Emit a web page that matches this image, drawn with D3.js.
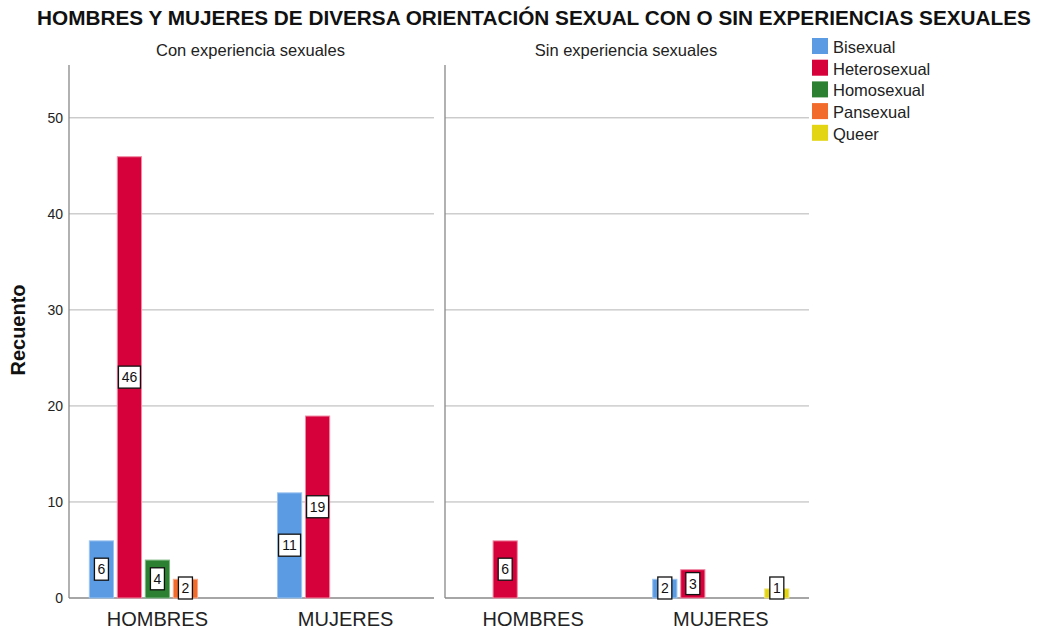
<!DOCTYPE html>
<html>
<head>
<meta charset="utf-8">
<script src="https://cdn.jsdelivr.net/npm/d3@7"></script>
<style>
  body { margin: 0; background: #fff; }
  text { font-family: "Liberation Sans", Arial, sans-serif; }
</style>
</head>
<body>
<div id="chart"></div>
<script>
var width = 1038,
    height = 630;

// data
var panels = ["Con experiencia sexuales", "Sin experiencia sexuales"];
var sexes = ["HOMBRES", "MUJERES"];
var orientations = ["Bisexual", "Heterosexual", "Homosexual", "Pansexual", "Queer"];
var colors = ["#5b9be3", "#d6003a", "#2b8032", "#f26b2b", "#e3d514"];
var edgeColors = ["#9cc3f0", "#f08aa5", "#7fb884", "#f8a888", "#f0e680"];
// counts per panel, sex, orientation
var conCounts = [[6, 46, 4, 2, 0], [11, 19, 0, 0, 0]];
var sinCounts = [[0, 6, 0, 0, 0], [2, 3, 0, 0, 1]];
var yTicks = [0, 10, 20, 30, 40, 50];

var counts = [conCounts, sinCounts];

var svg = d3.select("#chart").append("svg")
  .attr("width", width)
  .attr("height", height);

//title
svg.append("text")
  .attr("x", 534)
  .attr("y", 25)
  .attr("text-anchor", "middle")
  .style("font-size", "20.75px")
  .style("font-weight", "bold")
  .attr("fill", "#111")
  .text("HOMBRES Y MUJERES DE DIVERSA ORIENTACIÓN SEXUAL CON O SIN EXPERIENCIAS SEXUALES");

var yScale = d3.scaleLinear()
  .domain([0, 55.5])
  .range([598, 65]);

var panelX = [[69, 434], [445, 809]];

//y axis title
svg.append("text")
  .attr("transform", "translate(25,330), rotate(-90)")
  .attr("text-anchor", "middle")
  .style("font-size", "20px")
  .style("font-weight", "bold")
  .attr("fill", "#111")
  .text("Recuento");

//y tick labels
svg.append("g").selectAll("text")
  .data(yTicks)
  .enter().append("text")
    .attr("x", 63)
    .attr("y", function(d) { return yScale(d) + 5; })
    .attr("text-anchor", "end")
    .style("font-size", "14px")
    .attr("fill", "#222")
    .text(function(d) { return d; });

var inner = d3.scaleBand()
  .domain(orientations)
  .range([-70, 70])
  .paddingInner(0.1)
  .paddingOuter(0.05);

panels.forEach(function(title, p) {
  var x0 = panelX[p][0], x1 = panelX[p][1];
  var g = svg.append("g").attr("class", "panel");

  var xScale = d3.scalePoint()
    .domain(sexes)
    .range([x0, x1])
    .padding(0.47);

  //grid lines
  g.selectAll("line.grid")
    .data(yTicks.filter(function(d) { return d > 0; }))
    .enter().append("line")
      .attr("class", "grid")
      .attr("x1", x0).attr("x2", x1)
      .attr("y1", function(d) { return yScale(d); })
      .attr("y2", function(d) { return yScale(d); })
      .attr("stroke", "#b4b4b4")
      .attr("stroke-width", 1);

  //axis lines
  g.append("line")
    .attr("x1", x0).attr("x2", x0)
    .attr("y1", yScale(55.5)).attr("y2", yScale(0))
    .attr("stroke", "#888").attr("stroke-width", 1.3);
  g.append("line")
    .attr("x1", x0).attr("x2", x1)
    .attr("y1", yScale(0)).attr("y2", yScale(0))
    .attr("stroke", "#888").attr("stroke-width", 1.3);

  //panel title
  svg.append("text")
    .attr("x", (x0 + x1) / 2 - 1)
    .attr("y", 56)
    .attr("text-anchor", "middle")
    .style("font-size", "16.5px")
    .attr("fill", "#222")
    .text(title);

  //category labels
  g.selectAll("text.cat")
    .data(sexes)
    .enter().append("text")
      .attr("class", "cat")
      .attr("x", function(d) { return xScale(d); })
      .attr("y", 626)
      .attr("text-anchor", "middle")
      .style("font-size", "20px")
      .attr("fill", "#222")
      .text(function(d) { return d; });

  var items = [];
  sexes.forEach(function(s, i) {
    orientations.forEach(function(o, j) {
      var v = counts[p][i][j];
      if (v > 0) items.push({sex: s, o: o, j: j, value: v});
    });
  });

  g.selectAll("rect.bar")
    .data(items)
    .enter().append("rect")
      .attr("class", "bar")
      .attr("x", function(d) { return xScale(d.sex) + inner(d.o) + 0.5; })
      .attr("y", function(d) { return yScale(d.value) + 0.5; })
      .attr("width", inner.bandwidth() - 1)
      .attr("height", function(d) { return yScale(0) - yScale(d.value) - 0.5; })
      .attr("fill", function(d) { return colors[d.j]; })
      .attr("stroke", function(d) { return edgeColors[d.j]; })
      .attr("stroke-width", 1);

  //value labels
  var labels = g.selectAll("g.lab")
    .data(items)
    .enter().append("g")
      .attr("class", "lab")
      .attr("transform", function(d) {
        var cx = xScale(d.sex) + inner(d.o) + inner.bandwidth() / 2;
        var cy = Math.min(yScale(d.value / 2), yScale(0) - 10);
        return "translate(" + cx + "," + cy + ")";
      });
  labels.append("rect")
    .attr("x", function(d) { var w = String(d.value).length * 8 + 6; return -w / 2; })
    .attr("y", -11)
    .attr("width", function(d) { return String(d.value).length * 8 + 6; })
    .attr("height", 22)
    .attr("fill", "#fff")
    .attr("stroke", "#111")
    .attr("stroke-width", 1.3);
  labels.append("text")
    .attr("y", 5)
    .attr("text-anchor", "middle")
    .style("font-size", "14px")
    .attr("fill", "#111")
    .text(function(d) { return d.value; });
});

//legend
var legend = svg.append("g").attr("transform", "translate(812,38)");
var li = legend.selectAll("g")
  .data(orientations)
  .enter().append("g")
    .attr("transform", function(d, i) { return "translate(0," + (i * 21.7) + ")"; });
li.append("rect")
  .attr("width", 16).attr("height", 16)
  .attr("fill", function(d, i) { return colors[i]; });
li.append("text")
  .attr("x", 21)
  .attr("y", 15)
  .style("font-size", "16.5px")
  .attr("fill", "#222")
  .text(function(d) { return d; });
</script>
</body>
</html>
